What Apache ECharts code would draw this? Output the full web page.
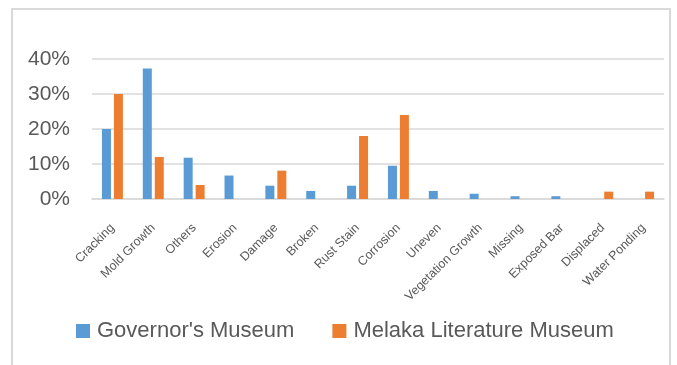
<!DOCTYPE html>
<html><head><meta charset="utf-8">
<script src="https://cdn.jsdelivr.net/npm/echarts@6/dist/echarts.min.js"></script>
<style>html,body{margin:0;padding:0;background:#fff}#c{width:677px;height:365px}</style>
</head><body><div id="c"></div>
<script>
const categories = ["Cracking","Mold Growth","Others","Erosion","Damage","Broken","Rust Stain","Corrosion","Uneven","Vegetation Growth","Missing","Exposed Bar","Displaced","Water Ponding"];
const governorsMuseum = [0.20,0.373,0.118,0.067,0.038,0.023,0.038,0.095,0.023,0.015,0.008,0.008,null,null];
const melakaLiteratureMuseum = [0.30,0.12,0.04,null,0.081,null,0.18,0.24,null,null,null,null,0.021,0.021];
const yTicks = [0,0.1,0.2,0.3,0.4];
const seriesNames = ["Governor's Museum","Melaka Literature Museum"];

const chart = echarts.init(document.getElementById('c'), null, {renderer:'canvas'});
const font = 'Liberation Sans, Arial, sans-serif';
chart.setOption({
  animation:false,
  color:['#5B9BD5','#ED7D31'],
  graphic:[{type:'rect',shape:{x:12,y:9,width:658,height:380},style:{fill:'none',stroke:'#d9d9d9',lineWidth:2},silent:true}],
  grid:{left:92,right:13,top:59,bottom:166,containLabel:false},
  legend:{
    data:seriesNames,left:76,top:320,padding:0,itemWidth:14,itemHeight:14,itemGap:38,icon:'rect',
    textStyle:{fontSize:22,color:'#595959',fontFamily:font,padding:[0,0,0,2]}
  },
  xAxis:{
    type:'category',data:categories,
    axisLine:{show:true,lineStyle:{color:'#d9d9d9',width:1.5}},
    axisTick:{show:false},
    axisLabel:{rotate:45,fontSize:12.5,color:'#595959',fontFamily:font,interval:0,margin:27}
  },
  yAxis:{
    type:'value',min:yTicks[0],max:yTicks[yTicks.length-1],interval:0.1,
    axisLine:{show:false},axisTick:{show:false},
    splitLine:{lineStyle:{color:'#d9d9d9',width:1.5}},
    axisLabel:{fontSize:21,color:'#595959',fontFamily:font,margin:22,formatter:v=>Math.round(v*100)+'%'}
  },
  series:[
    {name:seriesNames[0],type:'bar',data:governorsMuseum,barWidth:9,barGap:'33%'},
    {name:seriesNames[1],type:'bar',data:melakaLiteratureMuseum,barWidth:9,barGap:'33%'}
  ]
});
</script></body></html>
